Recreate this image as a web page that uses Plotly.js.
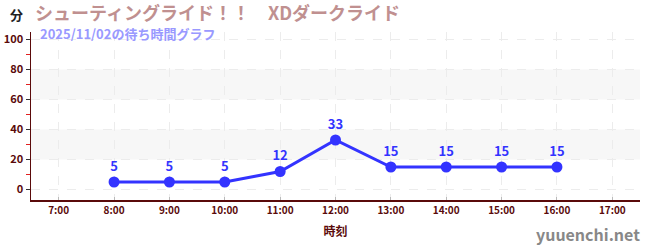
<!DOCTYPE html>
<html><head><meta charset="utf-8">
<script src="https://cdn.plot.ly/plotly-3.0.1.min.js"></script>
<style>html,body{margin:0;padding:0;background:#fff}</style>
</head><body><div id="chart" style="width:650px;height:250px"></div>
<script>
const times = ["8:00","9:00","10:00","11:00","12:00","13:00","14:00","15:00","16:00"];
const waits = [5, 5, 5, 12, 33, 15, 15, 15, 15];
const tickLabels = ["7:00","8:00","9:00","10:00","11:00","12:00","13:00","14:00","15:00","16:00","17:00"];
const titleText = "シューティングライド！！　XDダークライド";
const subtitleText = "2025/11/02の待ち時間グラフ";

const toHour = s => { const p = s.split(":"); return +p[0] + (+p[1]) / 60; };
const xs = times.map(toHour);
const tickVals = tickLabels.map(toHour);
const F = "'Noto Sans CJK JP', 'Noto Sans', sans-serif";
const dark = "#5a0a0a";

const trace = {
  x: xs, y: waits, type: "scatter", mode: "lines+markers+text",
  text: waits.map(String), textposition: "top center",
  textfont: {family: F, size: 13, color: "#3333ff", weight: "bold"},
  line: {color: "#3333ff", width: 3},
  marker: {color: "#3333ff", size: 11},
  hoverinfo: "none", cliponaxis: false
};

const layout = {
  width: 650, height: 250,
  margin: {l: 31, r: 10, t: 32, b: 50},
  paper_bgcolor: "#fff", plot_bgcolor: "#fff",
  showlegend: false,
  font: {family: F},
  xaxis: {
    range: [6.5, 17.5], tickvals: tickVals, ticktext: tickLabels,
    tickfont: {family: F, size: 10, color: dark, weight: "bold"},
    showgrid: true, gridcolor: "#ececec", griddash: "dash", gridwidth: 1,
    showline: true, linecolor: dark, linewidth: 1.5,
    ticks: "inside", ticklen: 3, tickcolor: "#bbb",
    zeroline: false,
    title: {text: "時刻", font: {family: F, size: 12, color: dark, weight: "bold"}, standoff: 12}
  },
  yaxis: {
    range: [-7, 105], tickvals: [0, 20, 40, 60, 80, 100],
    tickfont: {family: F, size: 11, color: dark, weight: "bold"},
    showgrid: true, gridcolor: "#ececec", griddash: "dash",
    showline: true, linecolor: dark, linewidth: 1.5,
    ticks: "outside", ticklen: 4, tickcolor: "#333",
    minor: {tickvals: [10, 30, 50, 70, 90], ticks: "outside", ticklen: 4, tickcolor: "#e02020", showgrid: false},
    zeroline: false
  },
  shapes: [
    {type: "rect", xref: "paper", yref: "y", x0: 0, x1: 1, y0: 20, y1: 40, fillcolor: "#f7f7f7", line: {width: 0}, layer: "below"},
    {type: "rect", xref: "paper", yref: "y", x0: 0, x1: 1, y0: 60, y1: 80, fillcolor: "#f7f7f7", line: {width: 0}, layer: "below"}
  ],
  annotations: [
    {text: "分", xref: "paper", yref: "paper", x: 0, y: 0, xanchor: "right", yanchor: "middle",
     showarrow: false, font: {family: F, size: 13, color: "#222", weight: "bold"}},
    {text: titleText, xref: "paper", yref: "paper", x: 0, y: 1, xanchor: "left", yanchor: "middle",
     showarrow: false, font: {family: F, size: 18, color: "#c09090", weight: "bold"}},
    {text: subtitleText, xref: "paper", yref: "paper", x: 0, y: 1, xanchor: "left", yanchor: "middle",
     showarrow: false, font: {family: F, size: 13, color: "#9999ff", weight: "bold"}},
    {text: "yuuenchi.net", xref: "paper", yref: "paper", x: 1, y: 0, xanchor: "right", yanchor: "middle",
     showarrow: false, font: {family: F, size: 16, color: "#888", weight: "bold"}}
  ]
};
const plotH = 250 - 32 - 50;
layout.annotations[0].y = 1 + (32 - 15) / plotH; layout.annotations[0].xshift = -6;
layout.annotations[1].y = 1 + (32 - 12) / plotH; layout.annotations[1].xshift = 2;
layout.annotations[2].y = 1 + (32 - 34) / plotH; layout.annotations[2].xshift = 7;
layout.annotations[3].y = -(234 - 200) / plotH; layout.annotations[3].xshift = 2;

Plotly.newPlot("chart", [trace], layout, {staticPlot: true, displayModeBar: false});
</script></body></html>
